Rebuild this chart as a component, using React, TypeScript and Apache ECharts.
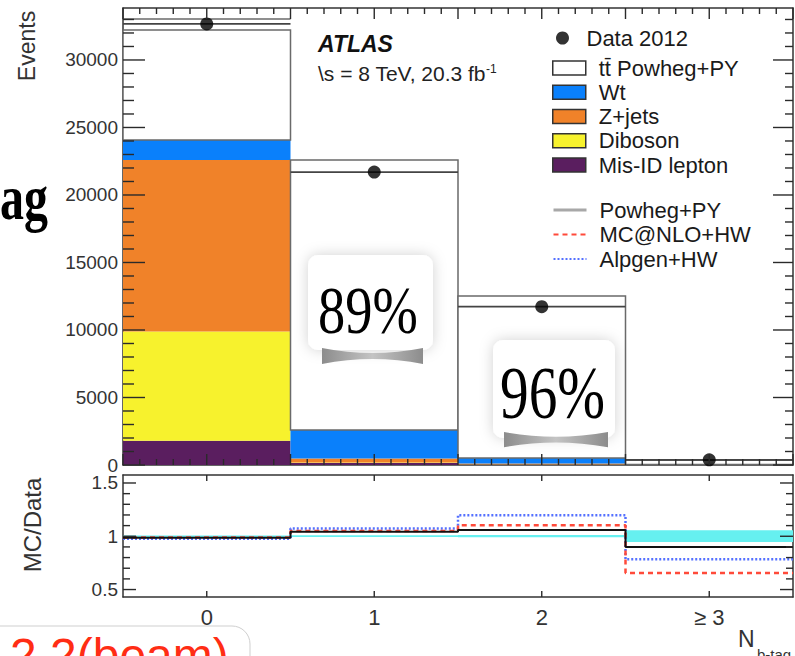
import React, { useEffect, useRef } from 'react';
import * as echarts from 'echarts';

// b-tag multiplicity bins
const binLabels = ['0', '1', '2', '≥ 3'];

// stacked expectation per bin (events), bottom to top
const misIdLepton = [1800, 150, 40, 5];
const diboson = [8080, 40, 15, 2];
const zJets = [12710, 300, 60, 8];
const wt = [1480, 2100, 400, 30];
const ttPowheg = [8150, 20000, 12000, 300];

// observed events
const data2012 = [32670, 21700, 11730, 380];
// additional upper line drawn in the first bin
const upperLine: (number | null)[] = [33040, null, null, null];

// ratio panel (MC/Data)
const ratioPowheg = [0.985, 1.042, 1.058, 0.9];
const ratioMcNlo = [0.988, 1.05, 1.103, 0.655];
const ratioAlpgen = [0.976, 1.072, 1.198, 0.784];
const bandLow = [0.99, 0.992, 0.99, 0.946];
const bandHigh = [1.008, 1.01, 1.012, 1.056];

// axis ticks
const ratioMajorTicks = [0.5, 1, 1.5];
const ratioMinorTicks = [0.6, 0.7, 0.8, 0.9, 1.1, 1.2, 1.3, 1.4];

const SANS = '"Liberation Sans", Arial, Helvetica, sans-serif';
const SERIF = '"Liberation Serif", "Times New Roman", serif';
const TICK = '#2a2a2a';

echarts.graphic.registerShape(
  'curl',
  echarts.graphic.extendPath('M0 0 Q50 10 100 0 L100 16 Q50 6 0 16 Z', {})
);

const frame = { show: true, onZero: false, lineStyle: { color: '#333', width: 1.5 } };

const histRect = (fill: string, stroke?: string) => (_p: any, api: any) => {
  const i = api.value(0);
  const lo = api.value(1);
  const hi = api.value(2);
  const a = api.coord([i - 0.5, hi]);
  const b = api.coord([i + 0.5, lo]);
  return {
    type: 'rect',
    shape: { x: a[0], y: a[1], width: b[0] - a[0], height: b[1] - a[1] },
    style: { fill, stroke: stroke || 'none', lineWidth: stroke ? 1.5 : 0 },
  };
};

const binLine = (stroke: string, width: number) => (_p: any, api: any) => {
  const i = api.value(0);
  const v = api.value(1);
  const a = api.coord([i - 0.5, v]);
  const b = api.coord([i + 0.5, v]);
  return {
    type: 'line',
    shape: { x1: a[0], y1: a[1], x2: b[0], y2: b[1] },
    style: { stroke, lineWidth: width },
  };
};

// one inward tick per row: [x, y, dx, dy] = anchor on the frame and pixel offset
const tickRender = (_p: any, api: any) => {
  const a = api.coord([api.value(0), api.value(1)]);
  const dx = api.value(2);
  const dy = api.value(3);
  return {
    type: 'line',
    shape: { x1: a[0], y1: a[1], x2: a[0] + dx, y2: a[1] + dy },
    style: { stroke: TICK, lineWidth: 1.4 },
  };
};

const stepPoints = (vals: number[]) => [
  ...vals.map((v, i) => [i - 0.5, v]),
  [vals.length - 0.5, vals[vals.length - 1]],
];

function buildOption() {
  const binIdx = binLabels.map((_, i) => i);
  const xMin = -0.5;
  const xMax = binLabels.length - 0.5;
  const yMaxTop = 33850;
  const rMin = 0.43;
  const rMax = 1.575;

  const stackDefs = [
    { name: 'Mis-ID lepton', values: misIdLepton, color: '#5a1e5f' },
    { name: 'Diboson', values: diboson, color: '#f7f22d' },
    { name: 'Z+jets', values: zJets, color: '#f08229' },
    { name: 'Wt', values: wt, color: '#0a80fb' },
    { name: 'tt\u0304 Powheg+PY', values: ttPowheg, color: '#ffffff', stroke: '#6a6a6a' },
  ];
  let base = binIdx.map(() => 0);
  const stackSeries = stackDefs.map((s) => {
    const rows = s.values.map((v, i) => [i, base[i], base[i] + v]);
    base = rows.map((r) => r[2]);
    return {
      type: 'custom',
      name: s.name,
      xAxisIndex: 0,
      yAxisIndex: 0,
      z: 2,
      itemStyle: { color: s.color },
      encode: { x: 0, y: [1, 2] },
      data: rows,
      renderItem: histRect(s.color, (s as any).stroke),
    };
  });

  // tick tables (anchor value on the frame, inward pixel offset)
  const topTicks: number[][] = [];
  for (let k = 0; k <= 40; k++) {
    const v = (k - 5) / 10;
    const len = k % 5 === 0 ? 11 : 6;
    topTicks.push([v, 0, 0, -len], [v, yMaxTop, 0, len]);
  }
  for (let k = 0; k <= 33; k++) {
    const major = k % 5 === 0;
    topTicks.push([xMin, k * 1000, major ? 22 : 11, 0], [xMax, k * 1000, major ? -20 : -8, 0]);
  }
  const ratioTicks: number[][] = [];
  binIdx.forEach((i) => ratioTicks.push([i, rMin, 0, -6], [i, rMax, 0, 6]));
  ratioMajorTicks.forEach((v) => ratioTicks.push([xMin, v, 13, 0], [xMax, v, -13, 0]));
  ratioMinorTicks.forEach((v) => ratioTicks.push([xMin, v, 7, 0], [xMax, v, -7, 0]));

  const noTick = { show: false };
  const topY = (position: string, labels: boolean) => ({
    gridIndex: 0,
    type: 'value',
    position,
    min: 0,
    max: yMaxTop,
    interval: 5000,
    axisLine: frame,
    axisTick: noTick,
    axisLabel: {
      show: labels,
      showMaxLabel: false,
      formatter: (v: number) => String(v),
      fontSize: 19,
      fontFamily: SANS,
      color: '#333',
      margin: 5,
    },
    splitLine: { show: false },
  });
  const ratioY = (position: string, labels: boolean) => ({
    gridIndex: 1,
    type: 'value',
    position,
    min: rMin,
    max: rMax,
    axisLine: frame,
    axisTick: noTick,
    axisLabel: {
      show: labels,
      customValues: ratioMajorTicks,
      formatter: (v: number) => String(v),
      fontSize: 19,
      fontFamily: SANS,
      color: '#333',
      margin: 5,
    },
    splitLine: { show: false },
  });
  const topX = (position: string) => ({
    gridIndex: 0,
    type: 'value',
    position,
    min: xMin,
    max: xMax,
    interval: 0.5,
    axisLine: frame,
    axisTick: noTick,
    axisLabel: { show: false },
    splitLine: { show: false },
  });
  const ratioX = (position: string, labels: boolean) => ({
    gridIndex: 1,
    type: 'value',
    position,
    min: xMin,
    max: xMax,
    interval: 0.5,
    axisLine: frame,
    axisTick: noTick,
    axisLabel: {
      show: labels,
      customValues: binIdx,
      formatter: (v: number) => binLabels[Math.round(v)],
      fontSize: 22,
      fontFamily: SANS,
      color: '#333',
      margin: 9,
    },
    splitLine: { show: false },
  });

  const legendText = {
    fontSize: 22,
    fontFamily: SANS,
    color: '#1a1a1a',
  };

  const ratioLine = (name: string, vals: number[], color: string, width: number, type: any, z: number) => ({
    type: 'line',
    name,
    xAxisIndex: 2,
    yAxisIndex: 2,
    step: 'end',
    symbol: 'none',
    z,
    data: stepPoints(vals),
    itemStyle: { color },
    lineStyle: { color, width, type },
  });

  const tickSeries = (name: string, axisIndex: number, rows: number[][]) => ({
    type: 'custom',
    name,
    xAxisIndex: axisIndex,
    yAxisIndex: axisIndex,
    z: 8,
    silent: true,
    encode: { x: 0, y: 1 },
    data: rows,
    renderItem: tickRender,
  });

  return {
    animation: false,
    backgroundColor: '#ffffff',
    grid: [
      { left: 123, top: 8, width: 670, height: 457, outerBoundsMode: 'none' },
      { left: 123, top: 475, width: 670, height: 122, outerBoundsMode: 'none' },
    ],
    xAxis: [topX('bottom'), topX('top'), ratioX('bottom', true), ratioX('top', false)],
    yAxis: [topY('left', true), topY('right', false), ratioY('left', true), ratioY('right', false)],
    legend: [
      {
        left: 556,
        top: 27,
        padding: 0,
        orient: 'vertical',
        selectedMode: false,
        itemWidth: 38,
        itemHeight: 13,
        icon: 'circle',
        textStyle: legendText,
        data: ['Data 2012'],
      },
      {
        left: 552,
        top: 57,
        padding: 0,
        orient: 'vertical',
        selectedMode: false,
        itemWidth: 33,
        itemHeight: 14,
        itemGap: 2.25,
        textStyle: { ...legendText, padding: [0, 0, 0, 8] },
        data: stackDefs
          .slice()
          .reverse()
          .map((s) => ({
            name: s.name,
            icon: 'rect',
            itemStyle: { color: s.color, borderColor: '#333', borderWidth: 1.5 },
          })),
      },
      {
        left: 552,
        top: 199,
        padding: 0,
        orient: 'vertical',
        selectedMode: false,
        itemWidth: 33,
        itemHeight: 14,
        itemGap: 2.5,
        textStyle: { ...legendText, padding: [0, 0, 0, 8] },
        data: [
          { name: 'Powheg+PY', itemStyle: { opacity: 0 }, lineStyle: { color: '#a8a8a8', width: 3, type: 'solid' } },
          { name: 'MC@NLO+HW', itemStyle: { opacity: 0 } },
          { name: 'Alpgen+HW', itemStyle: { opacity: 0 } },
        ],
      },
    ],
    series: [
      ...stackSeries,
      {
        type: 'custom',
        name: 'upper',
        xAxisIndex: 0,
        yAxisIndex: 0,
        z: 3,
        encode: { x: 0, y: 1 },
        data: upperLine
          .map((v, i) => (v === null ? null : [i, v]))
          .filter((r) => r !== null),
        renderItem: binLine('#6a6a6a', 1.5),
      },
      {
        type: 'custom',
        name: 'data-xerr',
        xAxisIndex: 0,
        yAxisIndex: 0,
        z: 3,
        encode: { x: 0, y: 1 },
        data: data2012.map((v, i) => [i, v]),
        renderItem: binLine('#444', 1.8),
      },
      {
        type: 'scatter',
        name: 'Data 2012',
        xAxisIndex: 0,
        yAxisIndex: 0,
        z: 5,
        symbol: 'circle',
        symbolSize: 13,
        itemStyle: { color: '#000' },
        data: data2012.map((v, i) => [i, v]),
      },
      {
        type: 'custom',
        name: 'band',
        xAxisIndex: 2,
        yAxisIndex: 2,
        z: 2,
        encode: { x: 0, y: [1, 2] },
        data: bandLow.map((lo, i) => [i, lo, bandHigh[i]]),
        renderItem: histRect('#66f0f0'),
      },
      ratioLine('Alpgen+HW', ratioAlpgen, '#5470ff', 2.5, [2, 2], 3),
      ratioLine('MC@NLO+HW', ratioMcNlo, '#ff4a3a', 2.5, [5, 4], 4),
      ratioLine('Powheg+PY', ratioPowheg, '#111111', 2, 'solid', 5),
      tickSeries('ticks-top', 0, topTicks),
      tickSeries('ticks-ratio', 2, ratioTicks),
    ],
    graphic: [
      {
        type: 'text',
        x: 27,
        y: 46,
        rotation: Math.PI / 2,
        style: { text: 'Events', fontSize: 23, fontFamily: SANS, fill: '#333', align: 'center', verticalAlign: 'middle' },
      },
      {
        type: 'text',
        x: 32,
        y: 525,
        rotation: Math.PI / 2,
        style: { text: 'MC/Data', fontSize: 24, fontFamily: SANS, fill: '#333', align: 'center', verticalAlign: 'middle' },
      },
      {
        type: 'text',
        x: 738,
        y: 639,
        style: { text: 'N', fontSize: 23, fontFamily: SANS, fill: '#333', verticalAlign: 'middle' },
      },
      {
        type: 'text',
        x: 757,
        y: 654,
        style: { text: 'b-tag', fontSize: 15, fontFamily: SANS, fill: '#333', verticalAlign: 'middle' },
      },
      {
        type: 'text',
        x: 318,
        y: 44,
        style: {
          text: 'ATLAS',
          fontSize: 23,
          fontWeight: 'bold',
          fontStyle: 'italic',
          fontFamily: SANS,
          fill: '#111',
          verticalAlign: 'middle',
        },
      },
      {
        type: 'text',
        x: 318,
        y: 73,
        style: {
          text: '\\s = 8 TeV, 20.3 fb{sup|-1}',
          fontSize: 21,
          fontFamily: SANS,
          fill: '#222',
          verticalAlign: 'middle',
          rich: { sup: { fontSize: 12, fontFamily: SANS, fill: '#222', verticalAlign: 'top', lineHeight: 21 } },
        },
      },
      // annotation cards
      {
        type: 'rect',
        z: 50,
        shape: { x: 308, y: 255, width: 125, height: 95, r: 10 },
        style: { fill: '#fff', shadowBlur: 14, shadowColor: 'rgba(0,0,0,0.18)' },
      },
      {
        type: 'curl',
        z: 51,
        x: 322,
        y: 348,
        scaleX: 1.01,
        scaleY: 1,
        style: {
          fill: {
            type: 'linear', x: 0, y: 0, x2: 1, y2: 0,
            colorStops: [
              { offset: 0, color: '#8c8c8c' },
              { offset: 0.5, color: '#c4c4c4' },
              { offset: 1, color: '#8c8c8c' },
            ],
          },
        },
      },
      {
        type: 'text',
        z: 52,
        x: 318,
        y: 310,
        scaleX: 0.8,
        style: { text: '89%', fontSize: 68, fontFamily: SERIF, fill: '#000', verticalAlign: 'middle' },
      },
      {
        type: 'rect',
        z: 50,
        shape: { x: 493, y: 340, width: 122, height: 98, r: 10 },
        style: { fill: '#fff', shadowBlur: 14, shadowColor: 'rgba(0,0,0,0.18)' },
      },
      {
        type: 'curl',
        z: 51,
        x: 504,
        y: 432,
        scaleX: 1.04,
        scaleY: 0.95,
        style: {
          fill: {
            type: 'linear', x: 0, y: 0, x2: 1, y2: 0,
            colorStops: [
              { offset: 0, color: '#8c8c8c' },
              { offset: 0.5, color: '#c4c4c4' },
              { offset: 1, color: '#8c8c8c' },
            ],
          },
        },
      },
      {
        type: 'text',
        z: 52,
        x: 500,
        y: 393,
        scaleX: 0.775,
        style: { text: '96%', fontSize: 74, fontFamily: SERIF, fill: '#000', verticalAlign: 'middle' },
      },
      // slide text around the plot
      {
        type: 'text',
        x: 0,
        y: 198,
        scaleX: 0.75,
        style: { text: 'ag', fontSize: 64, fontWeight: 'bold', fontFamily: SERIF, fill: '#000', verticalAlign: 'middle' },
      },
      {
        type: 'rect',
        shape: { x: -20, y: 626, width: 270, height: 80, r: 18 },
        style: { fill: '#fff', stroke: '#cfcfcf', lineWidth: 1 },
      },
      {
        type: 'text',
        x: 10,
        y: 655,
        style: { text: '2.2(beam)', fontSize: 48, fontFamily: SANS, fill: '#ff2d14', verticalAlign: 'middle' },
      },
    ],
  };
}

export default function App() {
  const ref = useRef<HTMLDivElement>(null);
  useEffect(() => {
    if (!ref.current) return;
    const chart = echarts.init(ref.current, undefined, { renderer: 'svg' });
    chart.setOption(buildOption() as any);
    return () => chart.dispose();
  }, []);
  return (
    <div
      ref={ref}
      style={{ position: 'absolute', left: 0, top: 0, width: 795, height: 656, background: '#fff' }}
    />
  );
}
